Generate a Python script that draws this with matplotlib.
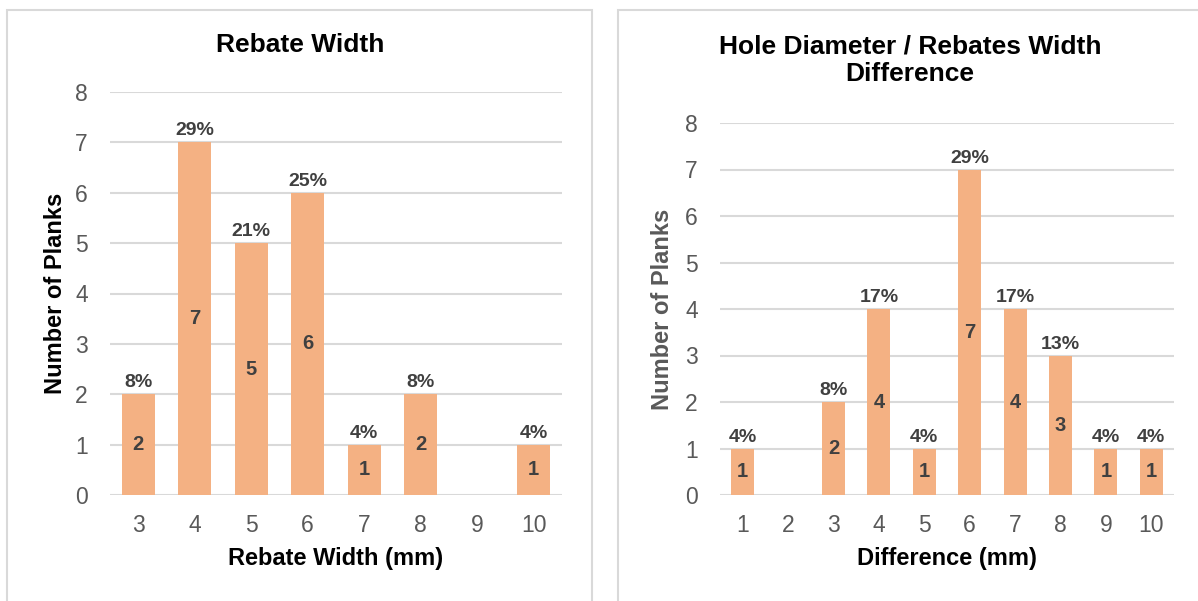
import matplotlib.pyplot as plt
from matplotlib.patches import Rectangle

plt.rcParams['font.family'] = ['Liberation Sans', 'DejaVu Sans']

# rebate widths (mm) and plank counts
rebate_widths = [3, 4, 5, 6, 7, 8, 9, 10]
rebate_counts = [2, 7, 5, 6, 1, 2, 0, 1]

# hole diameter minus rebate width (mm) and plank counts
differences = [1, 2, 3, 4, 5, 6, 7, 8, 9, 10]
difference_counts = [1, 0, 2, 4, 1, 7, 4, 3, 1, 1]

BAR = '#F4B183'
GRID = '#D9D9D9'
TICK = '#595959'
LABEL = '#404040'

W, H = 1198, 601
fig = plt.figure(figsize=(W / 100, H / 100), dpi=100)


def px_axes(x0, x1, ytop, ybot):
    return fig.add_axes([x0 / W, 1 - ybot / H, (x1 - x0) / W, (ybot - ytop) / H])


def pct(n, total):
    return int(n * 100 / total + 0.5)


def draw(ax, cats, counts, width, xlabel, ylabel_color, ypad):
    pos = list(range(len(cats)))
    total = sum(counts)
    ax.bar(pos, counts, width=width, color=BAR, zorder=2)
    for p, n in zip(pos, counts):
        if n == 0:
            continue
        ax.text(p, n / 2, str(n), ha='center', va='center', fontsize=14.5,
                fontweight='bold', color=LABEL, zorder=3)
        ax.text(p, n + 0.06, f'{pct(n, total)}%', ha='center', va='bottom',
                fontsize=14, fontweight='bold', color=LABEL, zorder=3)
    ax.set_xlim(-0.5, len(cats) - 0.5)
    ax.set_ylim(0, 8)
    ax.set_yticks(range(0, 9))
    ax.set_xticks(pos)
    ax.set_xticklabels([str(c) for c in cats])
    ax.yaxis.grid(True, color=GRID, linewidth=1.5, zorder=0)
    ax.set_axisbelow(True)
    for s in ax.spines.values():
        s.set_visible(False)
    ax.tick_params(length=0, labelsize=16.5, colors=TICK, pad=14)
    ax.tick_params(axis='y', pad=16)
    ax.set_xlabel(xlabel, fontsize=17, fontweight='bold', color='black', labelpad=7)
    ax.set_ylabel('Number of Planks', fontsize=17, fontweight='bold',
                  color=ylabel_color, labelpad=ypad)


# panel frames
fig.patches.append(Rectangle((7 / W, -0.05), 585 / W, 1 - 10 / H + 0.05,
                             transform=fig.transFigure, fill=False,
                             edgecolor=GRID, linewidth=1.5))
fig.patches.append(Rectangle((618 / W, -0.05), 0.6, 1 - 10 / H + 0.05,
                             transform=fig.transFigure, fill=False,
                             edgecolor=GRID, linewidth=1.5))

ax1 = px_axes(110, 562, 92, 495)
draw(ax1, rebate_widths, rebate_counts, 0.58, 'Rebate Width (mm)', 'black', 6)
fig.text(300 / W, 1 - 45 / H, 'Rebate Width', ha='center', va='center',
         fontsize=19, fontweight='bold')

ax2 = px_axes(720, 1174, 123, 495)
draw(ax2, differences, difference_counts, 0.51, 'Difference (mm)', TICK, 8)
fig.text(910 / W, 1 - 60 / H, 'Hole Diameter / Rebates Width\nDifference',
         ha='center', va='center', fontsize=19, fontweight='bold',
         linespacing=1.2)

fig.savefig('out.png', dpi=100)
